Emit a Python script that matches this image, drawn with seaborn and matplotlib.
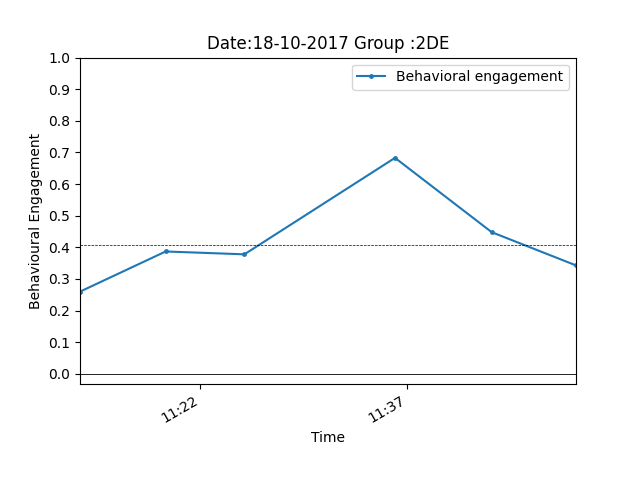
import pandas as pd
import matplotlib
matplotlib.use("Agg")
import matplotlib.pyplot as plt
import matplotlib.dates as mdates
import seaborn as sns

times = ["2017-10-18 11:13:18", "2017-10-18 11:19:30", "2017-10-18 11:25:12",
         "2017-10-18 11:36:06", "2017-10-18 11:43:06", "2017-10-18 11:49:12"]
engagement = [0.26, 0.387, 0.378, 0.683, 0.448, 0.343]
mean_level = 0.406

df = pd.DataFrame({"Time": pd.to_datetime(times), "Behavioral engagement": engagement})

fig, ax = plt.subplots(figsize=(6.4, 4.8), dpi=100)
sns.lineplot(data=df, x="Time", y="Behavioral engagement", marker=".", markersize=7,
             markeredgewidth=0, color="#1f77b4", label="Behavioral engagement", ax=ax)
ax.axhline(mean_level, color="black", linestyle="--", linewidth=0.5)
ax.axhline(0, color="black", linewidth=0.6)

ax.set_xlim(df["Time"].min(), df["Time"].max())
ax.set_ylim(-0.032, 1.0)
ax.set_yticks([i / 10 for i in range(11)])
ax.xaxis.set_major_locator(mdates.MinuteLocator(byminute=[7, 22, 37, 52]))
ax.xaxis.set_major_formatter(mdates.DateFormatter("%H:%M"))
fig.autofmt_xdate()
ax.set_xlabel("Time")
ax.set_ylabel("Behavioural Engagement")
ax.set_title("Date:18-10-2017 Group :2DE")
ax.legend(loc="upper right")
fig.savefig("out.png")
